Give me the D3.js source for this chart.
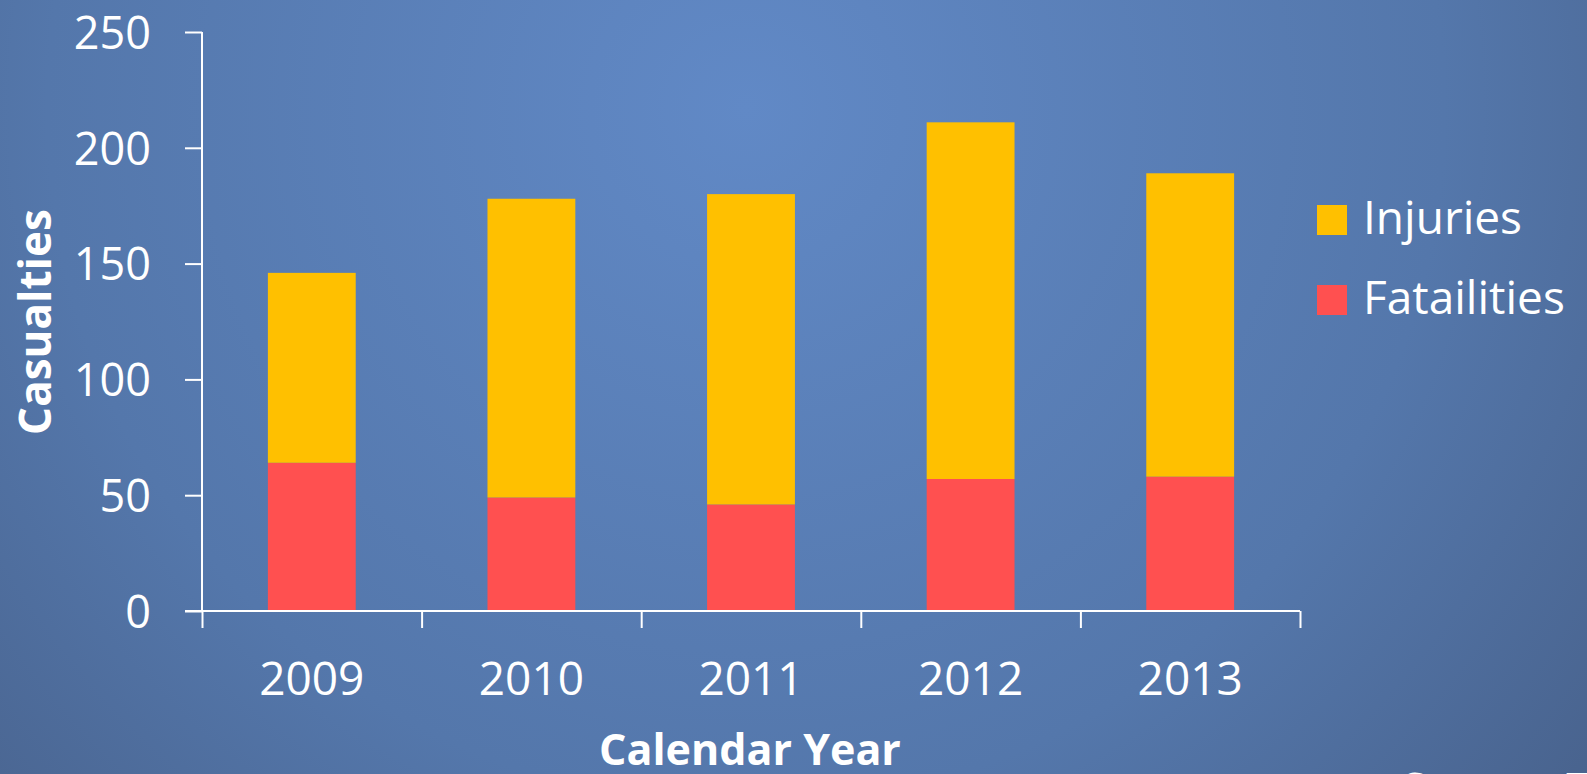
<!DOCTYPE html>
<html>
<head>
<meta charset="utf-8">
<title>Casualties</title>
<style>
  html, body { margin: 0; padding: 0; overflow: hidden; }
  svg { display: block; }
  text { font-family: "Open Sans", Calibri, sans-serif; fill: white; }
</style>
</head>
<body>
<svg width="1587" height="774"></svg>
<script src="https://d3js.org/d3.v7.min.js"></script>
<script>
// chart values
var years = ['2009', '2010', '2011', '2012', '2013'];
var fatalities = [64, 49, 46, 57, 58];
var injuries = [82, 129, 134, 154, 131];
var seriesNames = ['Fatailities', 'Injuries'];
var seriesColors = ['#FF5050', '#FFC000'];
var yTicks = [0, 50, 100, 150, 200, 250];

var svg = d3.select('svg');

// background: blue radial glow
var defs = svg.append('defs');
var grad = defs.append('radialGradient')
  .attr('id', 'bg')
  .attr('cx', '0.47').attr('cy', '0.14')
  .attr('r', '0.8')
  .attr('gradientTransform', 'translate(0.47,0.14) scale(1,2.05) translate(-0.47,-0.14)');
grad.append('stop').attr('offset', '0').attr('stop-color', '#6189c6');
grad.append('stop').attr('offset', '0.55').attr('stop-color', '#5477ab');
grad.append('stop').attr('offset', '1').attr('stop-color', '#43597f');
svg.append('rect').attr('width', 1587).attr('height', 774).attr('fill', 'url(#bg)');

var plotLeft = 202, plotRight = 1300, plotTop = 32, plotBottom = 611;

var x = d3.scaleBand().domain(years).range([plotLeft, plotRight]).paddingInner(0.6).paddingOuter(0.3);
var y = d3.scaleLinear().domain([0, 250]).range([plotBottom, plotTop]);

// stack the two series
var rows = years.map(function(d, i) {
  return { year: d, Fatailities: fatalities[i], Injuries: injuries[i] };
});
var stack = d3.stack().keys(seriesNames)(rows);

svg.append('g').selectAll('g')
  .data(stack)
  .enter()
  .append('g')
  .attr('fill', function(d, i) { return seriesColors[i]; })
  .selectAll('rect')
  .data(function(d) { return d; })
  .enter()
  .append('rect')
  .attr('x', function(d) { return x(d.data.year); })
  .attr('width', x.bandwidth())
  .attr('y', function(d) { return y(d[1]); })
  .attr('height', function(d) { return y(d[0]) - y(d[1]); });

// y axis
var yAxis = svg.append('g')
  .attr('transform', 'translate(' + plotLeft + ',0)')
  .call(d3.axisLeft(y).tickValues(yTicks).tickSize(17).tickPadding(34));
yAxis.select('.domain').attr('stroke', 'white').attr('stroke-width', 2)
  .attr('d', 'M0,' + plotTop + 'V' + plotBottom);
yAxis.selectAll('.tick line').attr('stroke', 'white').attr('stroke-width', 2);
yAxis.selectAll('.tick text')
  .attr('fill', 'white')
  .style('font-family', '"Open Sans", sans-serif')
  .style('font-size', '45px')
  .attr('dy', '0.36em');

// x axis: ticks between categories
var bounds = d3.range(years.length + 1);
var xb = d3.scaleLinear().domain([0, years.length]).range([plotLeft, plotRight]);
var xAxis = svg.append('g')
  .attr('transform', 'translate(0,' + plotBottom + ')')
  .call(d3.axisBottom(xb).tickValues(bounds).tickSize(17).tickFormat(''));
xAxis.select('.domain').attr('stroke', 'white').attr('stroke-width', 2)
  .attr('d', 'M185,0H' + plotRight);
xAxis.selectAll('.tick line').attr('stroke', 'white').attr('stroke-width', 2);

svg.append('g').selectAll('text')
  .data(years)
  .enter()
  .append('text')
  .attr('x', function(d) { return x(d) + x.bandwidth() / 2; })
  .attr('y', 695)
  .attr('text-anchor', 'middle')
  .style('font-size', '46px')
  .text(function(d) { return d; });

// axis titles
svg.append('text')
  .attr('transform', 'translate(51,322) rotate(-90)')
  .attr('text-anchor', 'middle')
  .style('font-size', '44px')
  .style('font-weight', 'bold')
  .text('Casualties');

svg.append('text')
  .attr('x', 750)
  .attr('y', 765)
  .attr('text-anchor', 'middle')
  .style('font-size', '43px')
  .style('font-weight', 'bold')
  .text('Calendar Year');

// legend, Injuries on top
var legendItems = [1, 0];
var leg = svg.append('g').selectAll('g')
  .data(legendItems)
  .enter()
  .append('g')
  .attr('transform', function(d, i) { return 'translate(1317,' + (205 + i * 80) + ')'; });
leg.append('rect')
  .attr('width', 30).attr('height', 30)
  .attr('fill', function(d) { return seriesColors[d]; });
leg.append('text')
  .attr('x', 46)
  .attr('y', 29)
  .style('font-size', '46px')
  .text(function(d) { return seriesNames[d]; });

// source note, mostly below the slide edge
svg.append('text')
  .attr('x', 1402)
  .attr('y', 804)
  .style('font-size', '44px')
  .text('Source: TSB');
</script>
</body>
</html>
